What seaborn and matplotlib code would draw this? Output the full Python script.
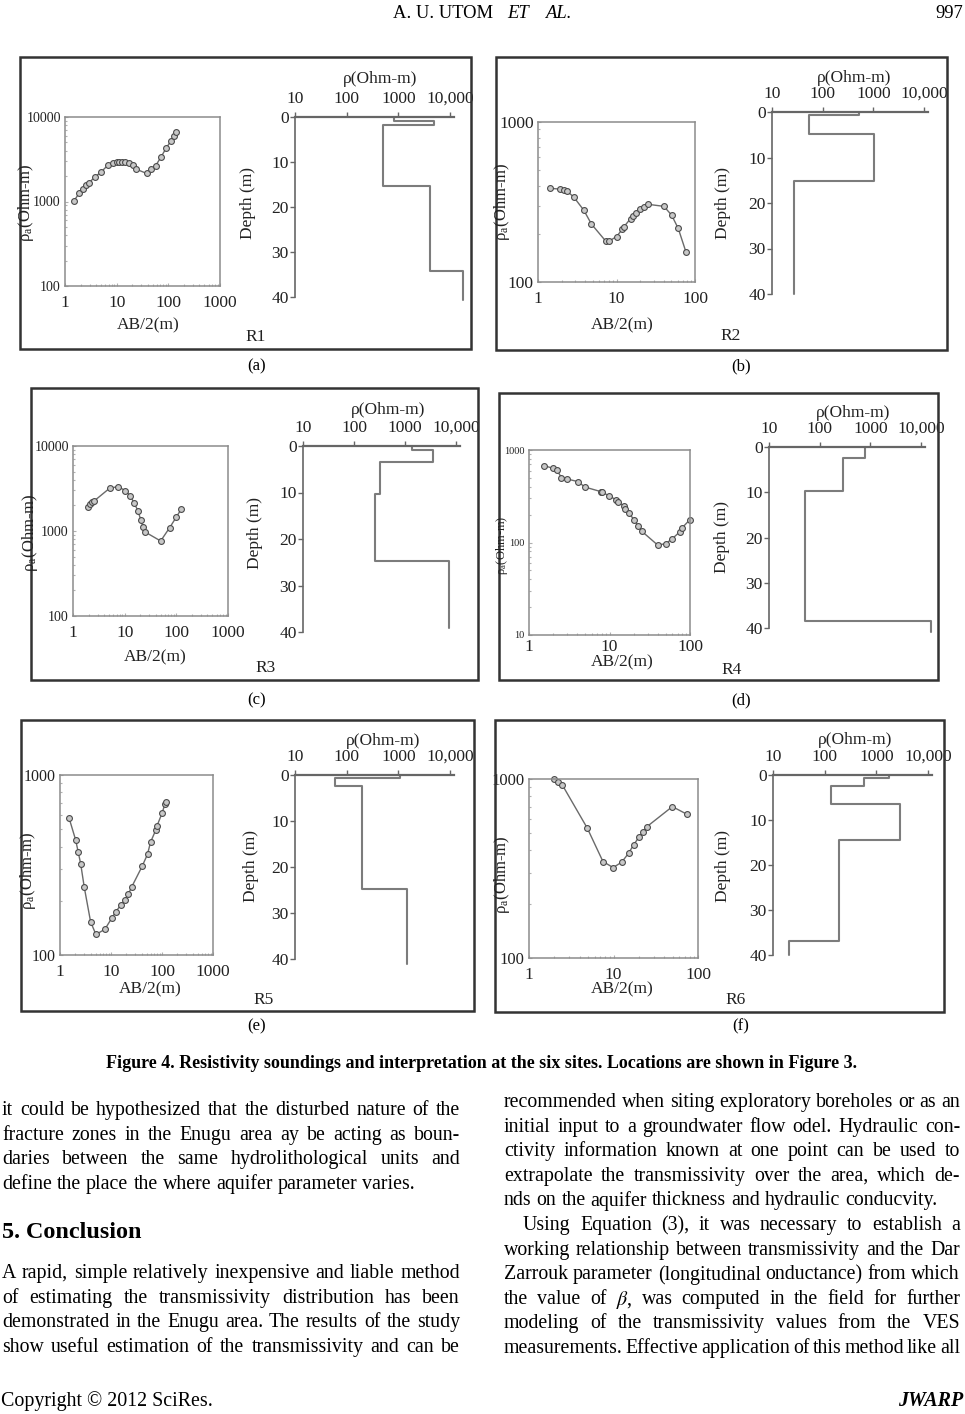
import numpy as np
import matplotlib
matplotlib.use("Agg")
import matplotlib.pyplot as plt
import seaborn as sns
from matplotlib.patches import Rectangle
from matplotlib.ticker import FixedLocator, FixedFormatter, LogLocator, NullFormatter

# apparent resistivity soundings: AB/2 (m) and rho_a (Ohm-m)
r1_ab = [1.5, 1.9, 2.2, 2.6, 2.9, 3.75, 4.9, 6.8, 8.4, 10.2, 11.3, 12.5, 14.5, 17.5, 20.3, 23.5,
         38, 47, 57, 73, 92, 113, 128, 143]
r1_rho = [1020, 1270, 1420, 1560, 1660, 1940, 2210, 2700, 2830, 2930, 2960, 2960, 2930, 2830, 2700, 2420,
          2150, 2400, 2660, 3400, 4350, 5220, 5880, 6630]
r2_ab = [1.41, 1.89, 2.13, 2.35, 2.85, 3.83, 4.8, 7.3, 8.0, 10, 11.8, 12.4, 15.1, 16.3, 17.5, 20.2,
         22.3, 25.1, 40.2, 50.3, 61.2, 76.7]
r2_rho = [385, 381, 376, 369, 340, 281, 230, 180, 180, 192, 213, 221, 249, 259, 270, 284,
          294, 306, 297, 262, 216, 154]
r3_ab = [1.95, 2.16, 2.37, 2.55, 5.1, 7.4, 10.3, 12.9, 15.2, 18.1, 20.4, 22.6, 24.4, 49.7, 74.3, 100, 125]
r3_rho = [1920, 2060, 2170, 2250, 3180, 3330, 2990, 2580, 2140, 1730, 1360, 1125, 980, 763, 1095, 1460, 1815]
r4_ab = [1.54, 1.99, 2.23, 2.53, 2.97, 4.07, 4.93, 7.8, 8.1, 9.8, 12.2, 12.6, 15.2, 15.5, 17.4, 20.3,
         22.7, 25, 39.6, 49.8, 60.3, 75.1, 80.3, 100]
r4_rho = [677, 634, 603, 502, 486, 455, 398, 355, 349, 321, 288, 276, 248, 230, 208, 175,
          152, 133, 94, 97, 110, 131, 145, 177]
r5_ab = [1.5, 2.03, 2.28, 2.54, 2.99, 3.98, 5.06, 7.6, 10.3, 12.3, 15.6, 18.7, 21.7, 25.3, 40.8, 52,
         59.5, 75.6, 79, 100.6, 113.5, 120.5]
r5_rho = [579, 435, 372, 322, 238, 153, 130, 139, 160, 173, 190, 202, 217, 238, 311, 363,
          423, 495, 518, 615, 687, 711]
r6_ab = [1.98, 2.2, 2.48, 4.9, 7.5, 9.9, 12.5, 15.1, 17.3, 20, 22.1, 24.9, 49.7, 74.1]
r6_rho = [1000, 967, 926, 531, 346, 320, 343, 385, 429, 473, 508, 542, 701, 635]

# interpreted layer models: layer resistivity (Ohm-m) and boundary depths (m)
r1_res = [810, 4780, 497, 4100, 17600]
r1_bnd = [0, 0.9, 1.7, 15.3, 34.3, 40.6]
r2_res = [515, 53, 1010, 27.6]
r2_bnd = [0, 0.7, 4.9, 15.2, 40]
r3_res = [1371, 3550, 320, 263, 7180]
r3_bnd = [0, 0.86, 3.4, 10.4, 24.8, 39.1]
r4_res = [785, 293, 51, 15800]
r4_bnd = [0, 2.4, 9.8, 38.5, 40.8]
r5_res = [1080, 59, 195, 1450]
r5_bnd = [0, 0.7, 2.4, 24.8, 41]
r6_res = [1740, 569, 133, 2830, 187, 20]
r6_bnd = [0, 0.7, 2.4, 6.4, 14.4, 36.8, 40]

site_names = ["R1", "R2", "R3", "R4", "R5", "R6"]
panel_tags = ["(a)", "(b)", "(c)", "(d)", "(e)", "(f)"]
x_decades = [(0, 3), (0, 2), (0, 3), (0, 2), (0, 3), (0, 2)]
y_decades = [(2, 4), (2, 3), (2, 4), (1, 3), (2, 3), (2, 3)]

caption = "Figure 4. Resistivity soundings and interpretation at the six sites. Locations are shown in Figure 3."
left_col = [
    "it could be hypothesized that the disturbed nature of the",
    "fracture zones in the Enugu area ay be acting as boun-",
    "daries between the same hydrolithological units and",
    "define the place the where aquifer parameter varies.",
]
heading = "5. Conclusion"
left_col2 = [
    "A rapid, simple relatively inexpensive and liable method",
    "of estimating the transmissivity distribution has been",
    "demonstrated in the Enugu area. The results of the study",
    "show useful estimation of the transmissivity and can be",
]
right_col = [
    "recommended when siting exploratory boreholes or as an",
    "initial input to a groundwater flow odel. Hydraulic con-",
    "ctivity information known at one point can be used to",
    "extrapolate the transmissivity over the area, which de-",
    "nds on the aquifer thickness and hydraulic conducvity.",
    "Using Equation (3), it was necessary to establish a",
    "working relationship between transmissivity and the Dar",
    "Zarrouk parameter (longitudinal onductance) from which",
    "the value of $\\beta$, was computed in the field for further",
    "modeling of the transmissivity values from the VES",
    "measurements. Effective application of this method like all",
]

soundings = [(r1_ab, r1_rho), (r2_ab, r2_rho), (r3_ab, r3_rho),
             (r4_ab, r4_rho), (r5_ab, r5_rho), (r6_ab, r6_rho)]
models = [(r1_res, r1_bnd), (r2_res, r2_bnd), (r3_res, r3_bnd),
          (r4_res, r4_bnd), (r5_res, r5_bnd), (r6_res, r6_bnd)]

# page layout in pixels (x, y from top-left)
layout = [
    dict(box=(20, 57, 471, 349), snd=(65, 117, 220, 286), yfs=10, xpad=6.5, mdl=(295, 51.7, 117, 297),
         tag=(257, 366), name=(256, 337), ab=(148, 325), rho=(380, 79), ylab=(26, 203), dlab=(248, 203)),
    dict(box=(496, 57, 947, 350), snd=(538, 122, 695, 282), yfs=12.5, xpad=6.5, mdl=(772, 50.7, 112, 294),
         tag=(741, 366), name=(731, 336), ab=(622, 325), rho=(854, 78), ylab=(502, 202), dlab=(723, 203)),
    dict(box=(31, 388, 478, 680), snd=(73, 446, 228, 616), yfs=10, xpad=6.5, mdl=(303, 51, 446, 632),
         tag=(257, 700), name=(266, 668), ab=(155, 657), rho=(388, 410), ylab=(30, 533), dlab=(255, 533)),
    dict(box=(499, 393, 938, 680), snd=(529, 450, 690, 635), yfs=7.5, xpad=3.0, mdl=(769, 50.7, 447, 628),
         tag=(741, 700), name=(732, 670), ab=(622, 662), rho=(853, 413), ylab=(502, 545), dlab=(722, 537)),
    dict(box=(21, 720, 474, 1011), snd=(60, 775, 213, 955), yfs=11.5, xpad=6.5, mdl=(295, 51.7, 775, 959),
         tag=(257, 1026), name=(264, 1000), ab=(150, 989), rho=(383, 741), ylab=(28, 871), dlab=(251, 866)),
    dict(box=(495, 720, 944, 1012), snd=(529, 779, 698, 958), yfs=12, xpad=6.5, mdl=(773, 51.7, 775, 955),
         tag=(741, 1026), name=(736, 1000), ab=(622, 989), rho=(855, 740), ylab=(502, 875), dlab=(723, 866)),
]

sns.set_style("white")
plt.rcParams["font.family"] = ["Liberation Serif", "DejaVu Serif"]
plt.rcParams["mathtext.fontset"] = "stix"

W, H = 965, 1414
fig = plt.figure(figsize=(W / 100, H / 100), dpi=100)
fig.patch.set_facecolor("white")
renderer = fig.canvas.get_renderer()
INK = "#222222"


def rect(x0, y0, x1, y1):
    return [x0 / W, 1 - y1 / H, (x1 - x0) / W, (y1 - y0) / H]


def ftext(x, y, s, **kw):
    kw.setdefault("ha", "center")
    kw.setdefault("va", "center")
    kw.setdefault("color", INK)
    return fig.text(x / W, 1 - y / H, s, **kw)


def width_px(s, **kw):
    t = fig.text(0, 0, s, **kw)
    w = t.get_window_extent(renderer).width
    t.remove()
    return w


def fit_size(s, target, **kw):
    return 10 * target / width_px(s, fontsize=10, **kw)


def put_line(line, x0, x1, y, fs, justify=True, **kw):
    words = line.split(" ")
    widths = [width_px(w, fontsize=fs, **kw) for w in words]
    if justify and len(words) > 1:
        gap = (x1 - x0 - sum(widths)) / (len(words) - 1)
    else:
        gap = width_px("a b", fontsize=fs, **kw) - width_px("ab", fontsize=fs, **kw)
    x = x0
    for w, wd in zip(words, widths):
        ftext(x, y, w, fontsize=fs, ha="left", va="center_baseline", color="black", **kw)
        x += wd + gap


def draw_sounding(box, ab, rho, xd, yd, yfs, xpad):
    ax = fig.add_axes(rect(*box))
    ax.set_xscale("log")
    ax.set_yscale("log")
    sns.lineplot(x=ab, y=rho, ax=ax, sort=False, estimator=None, color="#6a6a6a", linewidth=1.0,
                 marker="o", markersize=4.2, markerfacecolor="#c8c8c8",
                 markeredgecolor="#4a4a4a", markeredgewidth=0.8, clip_on=False)
    ax.set_xlim(10 ** xd[0], 10 ** xd[1])
    ax.set_ylim(10 ** yd[0], 10 ** yd[1])
    xt = [10 ** k for k in range(xd[0], xd[1] + 1)]
    yt = [10 ** k for k in range(yd[0], yd[1] + 1)]
    ax.xaxis.set_major_locator(FixedLocator(xt))
    ax.xaxis.set_major_formatter(FixedFormatter([f"{v:g}" for v in xt]))
    ax.yaxis.set_major_locator(FixedLocator(yt))
    ax.yaxis.set_major_formatter(FixedFormatter([f"{v:g}" for v in yt]))
    for a in (ax.xaxis, ax.yaxis):
        a.set_minor_locator(LogLocator(10, subs=np.arange(2, 10)))
        a.set_minor_formatter(NullFormatter())
    ax.tick_params(which="both", bottom=True, left=True, direction="in", color="#b0b0b0", width=0.8)
    ax.tick_params(which="major", length=2.5)
    ax.tick_params(which="minor", length=1.6)
    ax.tick_params(axis="x", labelsize=12.5, pad=xpad, labelcolor=INK)
    ax.tick_params(axis="y", labelsize=yfs, pad=3.0, labelcolor=INK)
    for s in ax.spines.values():
        s.set_color("#8c8c8c")
        s.set_linewidth(1.1)
    ax.set_xlabel("")
    ax.set_ylabel("")
    return ax


def draw_model(x10, dec, y0, y40, res, bnd):
    ax = fig.add_axes(rect(x10, y0, x10 + 3.08 * dec, y40))
    ax.set_xscale("log")
    xs = np.repeat(res, 2)
    ys = np.column_stack([bnd[:-1], bnd[1:]]).ravel()
    sns.lineplot(x=xs, y=ys, ax=ax, sort=False, estimator=None, color="#7c7c7c",
                 linewidth=1.5, clip_on=False)
    ax.set_xlim(10, 10 ** 4.08)
    ax.set_ylim(40, 0)
    ax.patch.set_alpha(0)
    for s in ("right", "bottom"):
        ax.spines[s].set_visible(False)
    ax.spines["top"].set_color("#666666")
    ax.spines["top"].set_linewidth(1.6)
    ax.spines["left"].set_color("#666666")
    ax.spines["left"].set_linewidth(1.2)
    ax.xaxis.tick_top()
    ax.xaxis.set_major_locator(FixedLocator([10, 100, 1000, 10000]))
    ax.xaxis.set_major_formatter(FixedFormatter(["10", "100", "1000", "10,000"]))
    ax.xaxis.set_minor_locator(LogLocator(10, subs=np.arange(2, 10)))
    ax.xaxis.set_minor_formatter(NullFormatter())
    ax.tick_params(axis="x", which="major", top=True, direction="out", length=3.8, width=1,
                   color="#666666", labelsize=12.5, pad=3.5, labelcolor=INK)
    ax.tick_params(axis="x", which="minor", top=True, direction="out", length=2.6, width=0.9,
                   color="#666666")
    ax.yaxis.set_major_locator(FixedLocator([0, 10, 20, 30, 40]))
    ax.tick_params(axis="y", left=True, direction="out", length=3.5, width=1, color="#666666",
                   labelsize=12.5, pad=1, labelcolor=INK)
    ax.set_xlabel("")
    ax.set_ylabel("")
    return ax


for i, L in enumerate(layout):
    bx = L["box"]
    fig.add_artist(Rectangle((bx[0] / W, 1 - bx[3] / H), (bx[2] - bx[0]) / W, (bx[3] - bx[1]) / H,
                             transform=fig.transFigure, fill=False, lw=1.8, ec="#333333"))
    ab, rho = soundings[i]
    draw_sounding(L["snd"], ab, rho, x_decades[i], y_decades[i], L["yfs"], L["xpad"])
    res, bnd = models[i]
    draw_model(*L["mdl"], res, bnd)
    ylab_fs = 9 if i == 3 else 12
    ftext(*L["ylab"], "ρ$_\\mathregular{a}$(Ohm-m)", fontsize=ylab_fs, rotation=90)
    ftext(*L["dlab"], "Depth (m)", fontsize=12.5, rotation=90)
    ftext(*L["rho"], "ρ(Ohm-m)", fontsize=12.5)
    ftext(*L["ab"], "AB/2(m)", fontsize=12.5)
    ftext(*L["name"], site_names[i], fontsize=12.5)
    ftext(*L["tag"], panel_tags[i], fontsize=12, color="black")

# running header and footer
hfs = fit_size("A. U. UTOM", 100)
ftext(392.6, 13, "A. U. UTOM", fontsize=hfs, ha="left", color="black")
ftext(507.7, 13, "ET", fontsize=hfs, ha="left", style="italic", color="black")
ftext(544.6, 13, "AL.", fontsize=hfs, ha="left", style="italic", color="black")
ftext(963, 13, "997", fontsize=hfs, ha="right", color="black")

cfs = fit_size(caption, 753, weight="bold")
ftext(481.5, 1063, caption, fontsize=cfs, weight="bold", color="black")

ffs = fit_size("Copyright © 2012 SciRes.", 212)
ftext(1, 1401, "Copyright © 2012 SciRes.", fontsize=ffs, ha="left", color="black")
ftext(963, 1401, "JWARP", fontsize=ffs, ha="right", weight="bold", style="italic", color="black")

# body text in two justified columns
bfs = fit_size(left_col[3], 411)
for k, line in enumerate(left_col):
    put_line(line, 2, 460, 1108 + 24.6 * k, bfs, justify=(k < len(left_col) - 1))
ftext(2, 1230, heading, fontsize=bfs * 1.22, ha="left", weight="bold", color="black",
      va="center_baseline")
for k, line in enumerate(left_col2):
    put_line(line, 2, 460, 1271 + 24.6 * k, bfs)
for k, line in enumerate(right_col):
    x0 = 523 if k == 5 else 504
    put_line(line, x0, 960, 1100 + 24.6 * k, bfs, justify=(k != 4))

fig.savefig("out.png", dpi=100, facecolor="white")
